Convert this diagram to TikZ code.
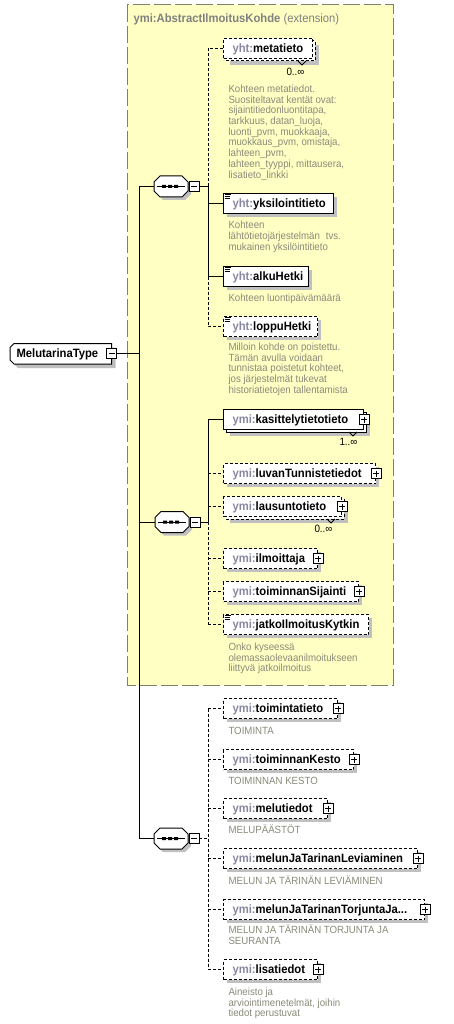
\documentclass[tikz,border=0pt]{standalone}
\usepackage{fontspec}
\setmainfont{Liberation Sans}
\newfontfamily\narrowfont[FakeStretch=0.93]{Liberation Sans}
\definecolor{extfill}{RGB}{255,255,196}
\definecolor{extline}{RGB}{128,128,104}
\definecolor{pfx}{RGB}{136,136,160}
\definecolor{desc}{RGB}{138,138,122}
\definecolor{shd}{RGB}{192,192,192}
\definecolor{ttl}{RGB}{128,128,128}
% single element: #1 style, #2 name, #3 top, #4 width, #5 prefix, #6 local name
\newcommand\xel[6]{%
  \fill[shd] ({227},{#3+4}) rectangle ({#4+227},{#3+24});
  \node[elem,#1,minimum width=#4pt] (#2) at (223,#3) {\makebox[#4pt][l]{\hspace*{9pt}\textcolor{pfx}{#5}#6}};}
% multiple element
\newcommand\xelm[6]{%
  \fill[shd] ({230},{#3+7}) rectangle ({#4+230},{#3+27});
  \draw[fill=white,#1] ({226},{#3+3}) rectangle ({#4+226},{#3+23});
  \draw[line width=.8pt] ({#4+209},{#3+23}) -- ({#4+213},{#3+27}) -- ({#4+217},{#3+23});
  \node[elem,#1,minimum width=#4pt] (#2) at (223,#3) {\makebox[#4pt][l]{\hspace*{9pt}\textcolor{pfx}{#5}#6}};}
% simple content icon
\newcommand\ico[1]{\draw[line width=.9pt] ([xshift=1.5pt,yshift=-1.2pt]#1.north west) -- ++(6,0) ([xshift=1.5pt,yshift=-3.4pt]#1.north west) -- ++(5,0) ([xshift=1.5pt,yshift=-5.6pt]#1.north west) -- ++(5,0);}
% sequence compositor: #1 name, #2 left x, #3 centre y
\newcommand\seqc[3]{%
  \fill[shd] ({#2+3},{#3-1.5}) -- ({#2+9},{#3-7.5}) -- ({#2+31},{#3-7.5}) -- ({#2+37},{#3-1.5}) -- ({#2+37},{#3+7.5}) -- ({#2+31},{#3+13.5}) -- ({#2+9},{#3+13.5}) -- ({#2+3},{#3+7.5}) -- cycle;
  \draw[fill=white] ({#2},{#3-4.5}) -- ({#2+6},{#3-10.5}) -- ({#2+28},{#3-10.5}) -- ({#2+34},{#3-4.5}) -- ({#2+34},{#3+4.5}) -- ({#2+28},{#3+10.5}) -- ({#2+6},{#3+10.5}) -- ({#2},{#3+4.5}) -- cycle;
  \node[inner sep=0pt,minimum width=34pt,minimum height=21pt] (#1) at ({#2+17},{#3}) {};
  \draw ({#2+3},{#3}) -- ({#2+31},{#3});
  \fill ({#2+8},{#3-1.5}) rectangle ++(4,3) ({#2+14},{#3-1.5}) rectangle ++(4,3) ({#2+20},{#3-1.5}) rectangle ++(4,3);
  \node[minusb] (#1m) at ({#2+40},{#3}) {};}
\begin{document}
\begin{tikzpicture}[x=1pt,y=-1pt,line width=1pt,
  opt/.style={dash pattern=on 3pt off 2pt},
  req/.style={solid},
  nm/.style={font=\narrowfont\fontsize{12.1}{13}\selectfont\bfseries},
  elem/.style={draw=black,fill=white,inner sep=0pt,minimum height=20pt,text height=9pt,text depth=1.6pt,anchor=north west,nm},
  ds/.style={font=\narrowfont\fontsize{10.4}{10.7}\selectfont,text=desc,inner sep=0pt,anchor=base west},
  card/.style={font=\narrowfont\fontsize{10.6}{11}\selectfont,inner sep=0pt,anchor=base east},
  plusb/.style={draw=black,fill=white,minimum size=10pt,inner sep=0pt,line width=.8pt,solid,
    path picture={\draw[line width=.8pt] ([xshift=2pt]path picture bounding box.west) -- ([xshift=-2pt]path picture bounding box.east) ([yshift=-2pt]path picture bounding box.north) -- ([yshift=2pt]path picture bounding box.south);}},
  minusb/.style={draw=black,fill=white,minimum size=10pt,inner sep=0pt,line width=.8pt,solid,
    path picture={\draw[line width=.8pt] ([xshift=2pt]path picture bounding box.west) -- ([xshift=-2pt]path picture bounding box.east);}}
]
\useasboundingbox (0,0) rectangle (453,1024);
\fill[white] (0,0) rectangle (453,1024);
% extension box
\draw[extline,fill=extfill,dash pattern=on 17pt off 4pt] (127,5) rectangle (393,685);
\node[anchor=base west,inner sep=0pt,font=\narrowfont\fontsize{12.1}{13}\selectfont,text=ttl] (ttl) at (133,23) {\textbf{ymi:AbstractIlmoitusKohde} (extension)};

% root
\fill[shd] (18,347.5) -- (115.5,347.5) -- (115.5,368) -- (18,368) -- (14,364) -- (14,351.5) -- cycle;
\draw[fill=white] (14,343.5) -- (111.5,343.5) -- (111.5,364) -- (14,364) -- (10,360) -- (10,347.5) -- cycle;
\node[nm,inner sep=0pt,anchor=base west] (mt) at (16,357.5) {MelutarinaType};
\node[minusb] (mtm) at (111.5,353.5) {};

% compositors
\seqc{s1}{154}{186.5}
\seqc{s2}{155}{522}
\seqc{s3}{154}{838.5}

% sequence 1
\xelm{opt}{meta}{38}{89}{yht:}{metatieto}
\xel{req}{yks}{193}{110}{yht:}{yksilointitieto}\ico{yks}
\xel{req}{alku}{266}{85}{yht:}{alkuHetki}\ico{alku}
\xel{opt}{loppu}{316}{94}{yht:}{loppuHetki}\ico{loppu}
\node[card] (cmeta) at (305,75.5) {0..∞};
\node[ds] (dmeta) at (228,92.5) {\parbox[t]{160pt}{Kohteen metatiedot.\\Suositeltavat kentät ovat:\\sijaintitiedonluontitapa,\\tarkkuus, datan\_luoja,\\luonti\_pvm, muokkaaja,\\muokkaus\_pvm, omistaja,\\lahteen\_pvm,\\lahteen\_tyyppi, mittausera,\\lisatieto\_linkki}};
\node[ds] (dyks) at (228,229) {\parbox[t]{160pt}{Kohteen\\lähtötietojärjestelmän\hspace{6pt}tvs.\\mukainen yksilöintitieto}};
\node[ds] (dalku) at (228,301.5) {Kohteen luontipäivämäärä};
\node[ds] (dloppu) at (228,350.5) {\parbox[t]{160pt}{Milloin kohde on poistettu.\\Tämän avulla voidaan\\tunnistaa poistetut kohteet,\\jos järjestelmät tukevat\\historiatietojen tallentamista}};

% sequence 2
\xelm{req}{kas}{409}{140}{ymi:}{kasittelytietotieto}
\node[plusb] (kasp) at (kas.east) {};
\xel{opt}{luv}{463}{152}{ymi:}{luvanTunnistetiedot}
\node[plusb] (luvp) at (luv.east) {};
\xelm{opt}{laus}{496}{118}{ymi:}{lausuntotieto}
\node[plusb] (lausp) at (laus.east) {};
\xel{opt}{ilm}{548}{94}{ymi:}{ilmoittaja}
\node[plusb] (ilmp) at (ilm.east) {};
\xel{opt}{sij}{581}{135}{ymi:}{toiminnanSijainti}
\node[plusb] (sijp) at (sij.east) {};
\xel{opt}{jat}{614}{145}{ymi:}{jatkoIlmoitusKytkin}\ico{jat}
\node[card] (ckas) at (358,445.5) {1..∞};
\node[card] (claus) at (333,532.5) {0..∞};
\node[ds] (djat) at (228,650.5) {\parbox[t]{160pt}{Onko kyseessä\\olemassaolevaanilmoitukseen\\liittyvä jatkoilmoitus}};

% sequence 3
\xel{opt}{toi}{698}{114}{ymi:}{toimintatieto}
\node[plusb] (toip) at (toi.east) {};
\xel{opt}{kes}{749}{130}{ymi:}{toiminnanKesto}
\node[plusb] (kesp) at (kes.east) {};
\xel{opt}{mel}{798}{104}{ymi:}{melutiedot}
\node[plusb] (melp) at (mel.east) {};
\xel{opt}{lev}{848}{194}{ymi:}{melunJaTarinanLeviaminen}
\node[plusb] (levp) at (lev.east) {};
\xel{opt}{tor}{899}{201}{ymi:}{melunJaTarinanTorjuntaJa...}
\node[plusb] (torp) at (tor.east) {};
\xel{opt}{lis}{959}{94}{ymi:}{lisatiedot}
\node[plusb] (lisp) at (lis.east) {};
\node[ds] (dtoi) at (228,734.5) {TOIMINTA};
\node[ds] (dkes) at (228,784.5) {TOIMINNAN KESTO};
\node[ds] (dmel) at (228,833.5) {MELUPÄÄSTÖT};
\node[ds] (dlev) at (228,884.5) {MELUN JA TÄRINÄN LEVIÄMINEN};
\node[ds] (dtor) at (228,933.5) {\parbox[t]{160pt}{MELUN JA TÄRINÄN TORJUNTA JA\\SEURANTA}};
\node[ds] (dlis) at (228,995.5) {\parbox[t]{160pt}{Aineisto ja\\arviointimenetelmät, joihin\\tiedot perustuvat}};

% connectors: root
\coordinate (tr) at (139,353.5);
\draw (mtm.east) -- (tr);
\draw (s1.west) -| (tr);
\draw (s2.west) -- (s2.west -| tr);
\draw (s3.west) -| (tr);

% connectors: sequence 1
\coordinate (b1) at (208,186.5);
\draw (s1m.east) -- (b1);
\draw[opt] (b1) |- (meta.west);
\draw (b1) |- (yks.west);
\draw (b1) |- (alku.west);
\draw[opt] (alku.west -| b1) |- (loppu.west);

% connectors: sequence 2
\coordinate (b2) at (208,522);
\draw (s2m.east) -- (b2);
\draw (b2) |- (kas.west);
\draw[opt] (luv.west -| b2) -- (luv.west);
\draw[opt] (laus.west -| b2) -- (laus.west);
\draw[opt] (b2) -- (jat.west -| b2);
\draw[opt] (ilm.west -| b2) -- (ilm.west);
\draw[opt] (sij.west -| b2) -- (sij.west);
\draw[opt] (jat.west -| b2) -- (jat.west);

% connectors: sequence 3
\coordinate (b3) at (208,838.5);
\draw[opt] (s3m.east) -- (b3);
\draw[opt] (toi.west -| b3) -- (lis.west -| b3);
\draw[opt] (toi.west -| b3) -- (toi.west);
\draw[opt] (kes.west -| b3) -- (kes.west);
\draw[opt] (mel.west -| b3) -- (mel.west);
\draw[opt] (lev.west -| b3) -- (lev.west);
\draw[opt] (tor.west -| b3) -- (tor.west);
\draw[opt] (lis.west -| b3) -- (lis.west);
\end{tikzpicture}
\end{document}
